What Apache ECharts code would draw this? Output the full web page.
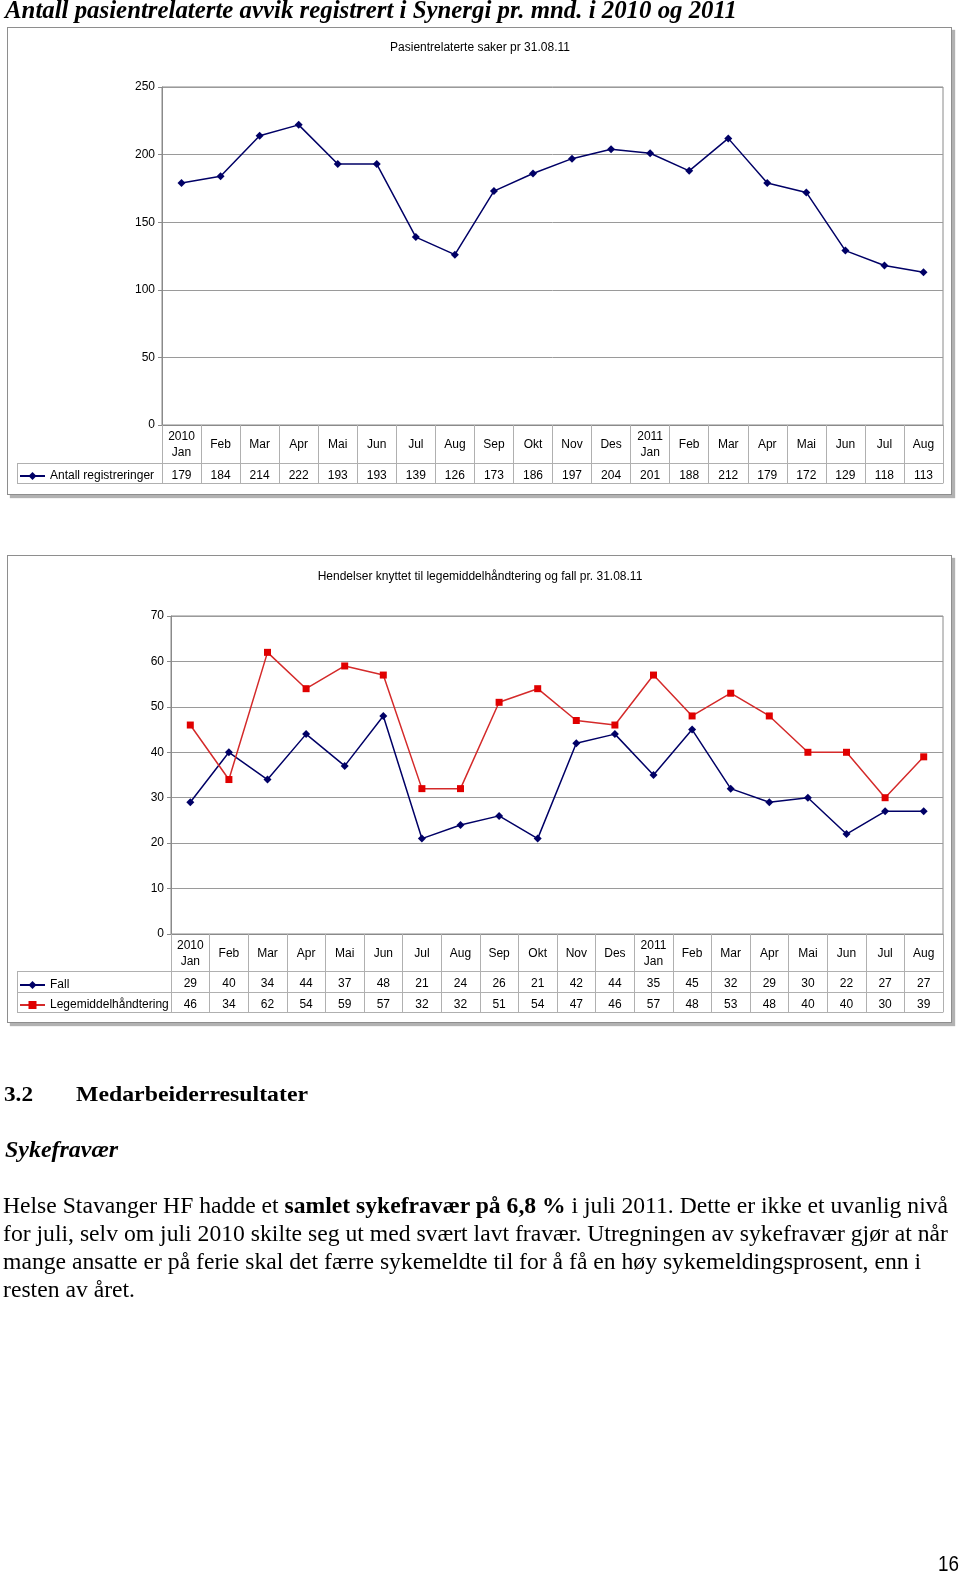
<!DOCTYPE html>
<html>
<head>
<meta charset="utf-8">
<script src="https://cdn.jsdelivr.net/npm/echarts@6/dist/echarts.min.js"></script>
<style>
  html, body { margin: 0; padding: 0; background: #fff; }
  body { width: 960px; height: 1576px; position: relative; overflow: hidden; }
  .box { position: absolute; background: #fff; border: 1.5px solid #8e8e8e; box-shadow: 3px 3px 1px rgba(0,0,0,0.3); box-sizing: border-box; }
  #chart { position: absolute; left: 0; top: 0; width: 960px; height: 1576px; }
  .t { position: absolute; white-space: nowrap; display: inline-block; transform-origin: 0 0; color: #000; }
  .serif { font-family: "Liberation Serif", "DejaVu Serif", serif; }
</style>
</head>
<body>
<div class="box" style="left:7px; top:27px; width:945px; height:468px;"></div>
<div class="box" style="left:7px; top:555px; width:945px; height:468px;"></div>
<div id="chart"></div>

<div class="t serif" data-w="732" style="left:5px; top:-3px; font-size:25px; line-height:25px; font-weight:bold; font-style:italic;">Antall pasientrelaterte avvik registrert i Synergi pr. mnd. i 2010 og 2011</div>

<div class="t serif" data-w="29" style="left:4px; top:1083px; font-size:22px; line-height:22px; font-weight:bold;">3.2</div>
<div class="t serif" data-w="232" style="left:76px; top:1083px; font-size:22px; line-height:22px; font-weight:bold;">Medarbeiderresultater</div>

<div class="t serif" data-w="113" style="left:5px; top:1137px; font-size:24px; line-height:24px; font-weight:bold; font-style:italic;">Sykefravær</div>

<div class="t serif" data-w="945" style="left:3px; top:1194px; font-size:23px; line-height:23px;">Helse Stavanger HF hadde et <b>samlet sykefravær på 6,8 %</b> i juli 2011. Dette er ikke et uvanlig nivå</div>
<div class="t serif" data-w="945" style="left:3px; top:1222px; font-size:23px; line-height:23px;">for juli, selv om juli 2010 skilte seg ut med svært lavt fravær. Utregningen av sykefravær gjør at når</div>
<div class="t serif" data-w="918" style="left:3px; top:1250px; font-size:23px; line-height:23px;">mange ansatte er på ferie skal det færre sykemeldte til for å få en høy sykemeldingsprosent, enn i</div>
<div class="t serif" data-w="132" style="left:3px; top:1278px; font-size:23px; line-height:23px;">resten av året.</div>

<div class="t" data-w="21" style="left:938px; top:1552px; font-size:22px; line-height:24px; font-family:'Liberation Sans', sans-serif;">16</div>

<script>
// ---------- data ----------
const months = ['2010\nJan','Feb','Mar','Apr','Mai','Jun','Jul','Aug','Sep','Okt','Nov','Des',
                '2011\nJan','Feb','Mar','Apr','Mai','Jun','Jul','Aug'];
const regs = [179,184,214,222,193,193,139,126,173,186,197,204,201,188,212,179,172,129,118,113];
const fall = [29,40,34,44,37,48,21,24,26,21,42,44,35,45,32,29,30,22,27,27];
const lege = [46,34,62,54,59,57,32,32,51,54,47,46,57,48,53,48,40,40,30,39];
const title1 = 'Pasientrelaterte saker pr 31.08.11';
const title2 = 'Hendelser knyttet til legemiddelhåndtering og fall pr. 31.08.11';
const name1 = 'Antall registreringer';
const nameFall = 'Fall';
const nameLege = 'Legemiddelhåndtering';
const yTicks1 = {min: 0, max: 250, interval: 50};
const yTicks2 = {min: 0, max: 70, interval: 10};

// ---------- styles ----------
const FONT = "'Liberation Sans', Arial, sans-serif";
const NAVY = '#000066';
const RED = '#e00000';
const RED_LINE = '#d42a2a';
const GRID_C = '#9a9a9a';
const AXIS_C = '#8a8a8a';
const TABLE_C = '#b0b0b0';

function headerAxis(gi, tickLen) {
  return {
    gridIndex: gi, type: 'category', data: months, position: 'bottom',
    axisLine: {show: true, lineStyle: {color: AXIS_C, width: 1}},
    axisTick: {show: true, interval: 0, length: tickLen, lineStyle: {color: TABLE_C}},
    axisLabel: {interval: 0, margin: tickLen / 2 + 1, verticalAlign: 'middle', lineHeight: 16,
                fontSize: 12, color: '#000', fontFamily: FONT}
  };
}
function rowAxis(gi, offset, tickLen, vals) {
  return {
    gridIndex: gi, type: 'category', data: months, position: 'bottom', offset: offset,
    axisLine: {show: true, lineStyle: {color: TABLE_C, width: 1}},
    axisTick: {show: tickLen > 0, interval: 0, length: tickLen, lineStyle: {color: TABLE_C}},
    axisLabel: {show: !!vals, interval: 0, margin: tickLen / 2 + 2.5, verticalAlign: 'middle',
                fontSize: 12, color: '#000', fontFamily: FONT,
                formatter: (v, i) => vals ? String(vals[i]) : ''}
  };
}
function valAxis(gi, t) {
  return {
    gridIndex: gi, type: 'value', min: t.min, max: t.max, interval: t.interval,
    axisLine: {show: true, lineStyle: {color: AXIS_C}},
    axisTick: {show: true, length: 4, lineStyle: {color: AXIS_C}},
    axisLabel: {margin: 7, fontSize: 12, color: '#000', fontFamily: FONT},
    splitLine: {show: true, lineStyle: {color: GRID_C, width: 1}}
  };
}
function legendAt(name, top) {
  return {
    data: [name], left: 19, top: top, padding: 0, itemWidth: 25, itemHeight: 10, itemGap: 0,
    textStyle: {fontSize: 12, color: '#000', fontFamily: FONT}
  };
}
function hline(x1, x2, y) {
  return {type: 'line', shape: {x1: x1, y1: y + 0.5, x2: x2, y2: y + 0.5},
          style: {stroke: TABLE_C, lineWidth: 1}};
}
function vline(x, y1, y2) {
  return {type: 'line', shape: {x1: x + 0.5, y1: y1, x2: x + 0.5, y2: y2},
          style: {stroke: TABLE_C, lineWidth: 1}};
}

const chart = echarts.init(document.getElementById('chart'), null, {renderer: 'canvas'});
chart.setOption({
  animation: false,
  title: [
    {text: title1, left: 'center', top: 37, textStyle: {fontSize: 12, fontWeight: 'normal', color: '#000', fontFamily: FONT}},
    {text: title2, left: 'center', top: 566, textStyle: {fontSize: 12, fontWeight: 'normal', color: '#000', fontFamily: FONT}}
  ],
  legend: [
    legendAt(name1, 470),
    legendAt(nameFall, 979),
    legendAt(nameLege, 999)
  ],
  grid: [
    {left: 162, right: 17, top: 87, height: 338, show: true, borderColor: AXIS_C, borderWidth: 1, containLabel: false},
    {left: 171, right: 17, top: 616, height: 318, show: true, borderColor: AXIS_C, borderWidth: 1, containLabel: false}
  ],
  xAxis: [
    headerAxis(0, 38),
    rowAxis(0, 38, 20, regs),
    rowAxis(0, 58, 0, null),
    headerAxis(1, 37),
    rowAxis(1, 37, 21, fall),
    rowAxis(1, 58, 20, lege),
    rowAxis(1, 78, 0, null)
  ],
  yAxis: [valAxis(0, yTicks1), valAxis(1, yTicks2)],
  series: [
    {name: name1, type: 'line', xAxisIndex: 0, yAxisIndex: 0, data: regs,
     symbol: 'diamond', symbolSize: 8, itemStyle: {color: NAVY},
     lineStyle: {color: NAVY, width: 1.5}},
    {name: nameFall, type: 'line', xAxisIndex: 3, yAxisIndex: 1, data: fall,
     symbol: 'diamond', symbolSize: 8, itemStyle: {color: NAVY},
     lineStyle: {color: NAVY, width: 1.5}},
    {name: nameLege, type: 'line', xAxisIndex: 3, yAxisIndex: 1, data: lege,
     symbol: 'rect', symbolSize: 7, itemStyle: {color: RED},
     lineStyle: {color: RED_LINE, width: 1.5}}
  ],
  graphic: [
    hline(17, 162, 463), hline(17, 162, 483), vline(17, 463, 484),
    hline(17, 171, 971), hline(17, 171, 992), hline(17, 171, 1012), vline(17, 971, 1013)
  ]
});

// fit text widths to the reference
document.querySelectorAll('.t[data-w]').forEach(el => {
  const w = el.getBoundingClientRect().width;
  const target = parseFloat(el.getAttribute('data-w'));
  if (w > 0) el.style.transform = 'scaleX(' + (target / w).toFixed(4) + ')';
});
</script>
</body>
</html>
